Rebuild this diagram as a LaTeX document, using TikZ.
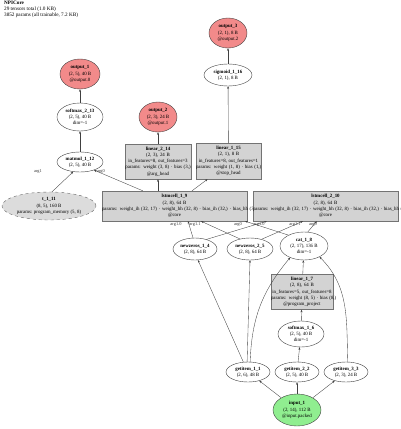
\documentclass[tikz,border=0pt]{standalone}
\usepackage{fontspec}
\setmainfont{Liberation Serif}
\usetikzlibrary{arrows.meta, positioning, calc, shapes.geometric}
\definecolor{outfill}{HTML}{F28A8A}
\definecolor{infill}{HTML}{90EE90}
\definecolor{layerfill}{HTML}{D3D3D3}
\definecolor{constfill}{HTML}{DCDCDC}
\definecolor{inkedge}{HTML}{404040}
\newcommand{\gvtext}{\fontsize{4.9}{6.2}\selectfont}
\newcommand{\titletext}{\fontsize{5.2}{5.9}\selectfont}
\newcommand{\argtext}{\fontsize{4.4}{5}\selectfont}
\newcommand{\gvline}[1]{\mbox{#1}}

\begin{document}
\begin{tikzpicture}[x=1pt, y=-1pt,
    op/.style={ellipse, draw=inkedge, line width=0.4pt, inner sep=0pt,
               align=center, font=\gvtext},
    layer/.style={rectangle, draw=black!55, fill=layerfill, line width=0.4pt,
                  inner sep=0pt, align=center, font=\gvtext},
    edge/.style={-{Stealth[length=2.6pt, width=2pt]}, draw=inkedge, line width=0.35pt},
    argl/.style={font=\argtext, inner sep=0pt, text=black!80}]
  \useasboundingbox (0,0) rectangle (400,429);
  \node[anchor=north west, align=left, font=\titletext, inner sep=0pt] (title) at (4,1)
    {\textbf{NPICore}\\29 tensors total (1.0 KB)\\3852 params (all trainable, 7.2 KB)};

  % outputs and heads
  \node[op, fill=outfill, minimum width=38pt, minimum height=30pt] (output_3) at (228,33)
    {\textbf{output\_3}\\(2, 1), 8 B\\@output.2};
  \node[op, minimum width=48pt, minimum height=22pt] (sigmoid_1_16) at (228,75)
    {\textbf{sigmoid\_1\_16}\\(2, 1), 8 B};
  \node[op, fill=outfill, minimum width=40pt, minimum height=30pt] (output_1) at (80,74)
    {\textbf{output\_1}\\(2, 5), 40 B\\@output.0};
  \node[op, minimum width=46pt, minimum height=28pt] (softmax_2_13) at (80,117)
    {\textbf{softmax\_2\_13}\\(2, 5), 40 B\\dim=-1};
  \node[op, fill=outfill, minimum width=38pt, minimum height=30pt] (output_2) at (158,117)
    {\textbf{output\_2}\\(2, 3), 24 B\\@output.1};
  \node[op, minimum width=46pt, minimum height=20pt] (matmul_1_12) at (80,162)
    {\textbf{matmul\_1\_12}\\(2, 5), 40 B};
  \node[layer, text width=66pt, minimum height=35pt] (linear_2_14) at (158,161.5)
    {\textbf{linear\_2\_14}\\(2, 3), 24 B\\\gvline{in\_features=8, out\_features=3}\\
     \gvline{params: weight (3, 8) · bias (3,)}\\@arg\_head};
  \node[layer, text width=65pt, minimum height=36pt] (linear_1_15) at (228.5,161)
    {\textbf{linear\_1\_15}\\(2, 1), 8 B\\\gvline{in\_features=8, out\_features=1}\\
     \gvline{params: weight (1, 8) · bias (1,)}\\@stop\_head};

  % recurrent core
  \node[op, dashed, draw=black!60, fill=constfill, minimum width=94pt, minimum height=28pt]
    (t_1_11) at (49,206)
    {\textbf{t\_1\_11}\\(8, 5), 160 B\\\gvline{params: program\_memory (5, 8)}};
  \node[layer, text width=145pt, minimum height=30pt] (lstmcell_1_9) at (174.5,206)
    {\textbf{lstmcell\_1\_9}\\(2, 8), 64 B\\
     \gvline{params: weight\_ih (32, 17) · weight\_hh (32, 8) · bias\_ih (32,) · bias\_hh (32,)}\\@core};
  \node[layer, text width=145pt, minimum height=30pt] (lstmcell_2_10) at (325.5,206)
    {\textbf{lstmcell\_2\_10}\\(2, 8), 64 B\\
     \gvline{params: weight\_ih (32, 17) · weight\_hh (32, 8) · bias\_ih (32,) · bias\_hh (32,)}\\@core};
  \node[op, minimum width=44pt, minimum height=22pt] (newzeros_1_4) at (195,249)
    {\textbf{newzeros\_1\_4}\\(2, 8), 64 B};
  \node[op, minimum width=46pt, minimum height=22pt] (newzeros_2_5) at (250,249)
    {\textbf{newzeros\_2\_5}\\(2, 8), 64 B};
  \node[op, minimum width=48pt, minimum height=28pt] (cat_1_8) at (304,246)
    {\textbf{cat\_1\_8}\\(2, 17), 136 B\\dim=-1};
  \node[layer, text width=62pt, minimum height=35pt] (linear_1_7) at (302,292)
    {\textbf{linear\_1\_7}\\(2, 8), 64 B\\\gvline{in\_features=5, out\_features=8}\\
     \gvline{params: weight (8, 5) · bias (8,)}\\@program\_project};
  \node[op, minimum width=46pt, minimum height=26pt] (softmax_1_6) at (301,334)
    {\textbf{softmax\_1\_6}\\(2, 5), 40 B\\dim=-1};

  % inputs
  \node[op, minimum width=44pt, minimum height=20pt] (getitem_1_1) at (248,372)
    {\textbf{getitem\_1\_1}\\(2, 6), 48 B};
  \node[op, minimum width=44pt, minimum height=20pt] (getitem_2_2) at (297,372)
    {\textbf{getitem\_2\_2}\\(2, 5), 40 B};
  \node[op, minimum width=44pt, minimum height=20pt] (getitem_3_3) at (346,372)
    {\textbf{getitem\_3\_3}\\(2, 3), 24 B};
  \node[op, fill=infill, minimum width=48pt, minimum height=32pt] (input_1) at (297,410)
    {\textbf{input\_1}\\(2, 14), 112 B\\@input.packed};

  % edges
  \draw[edge] (sigmoid_1_16) -- (output_3);
  \draw[edge] (linear_1_15) -- (sigmoid_1_16);
  \draw[edge] (softmax_2_13) -- (output_1);
  \draw[edge] (matmul_1_12) -- (softmax_2_13);
  \draw[edge] (linear_2_14) -- (output_2);
  \draw[edge] ($(lstmcell_1_9.north west)+(41,0)$) -- (matmul_1_12.-30);
  \draw[edge] (t_1_11.78) -- (matmul_1_12.-125);
  \draw[edge] (linear_2_14.south |- lstmcell_1_9.north) -- (linear_2_14.south);
  \draw[edge] ($(lstmcell_1_9.north)+(17.5,0)$) -- ($(linear_1_15.south)+(-21,0)$);
  \draw[edge] (newzeros_1_4.100) -- ($(lstmcell_1_9.south)+(13.5,0)$);
  \draw[edge] (newzeros_2_5.135) -- ($(lstmcell_1_9.south)+(26.5,0)$);
  \draw[edge] (cat_1_8.145) -- ($(lstmcell_1_9.south east)+(-2,0)$);
  \draw[edge] (newzeros_1_4.40) -- ($(lstmcell_2_10.south west)+(14,0)$);
  \draw[edge] (newzeros_2_5.40) -- ($(lstmcell_2_10.south west)+(50,0)$);
  \draw[edge] (cat_1_8.75) -- ($(lstmcell_2_10.south west)+(64,0)$);
  \draw[edge] (linear_1_7) -- (cat_1_8);
  \draw[edge] (softmax_1_6) -- (linear_1_7);
  \draw[edge] (getitem_2_2) -- (softmax_1_6);
  \draw[edge] (getitem_1_1.115) -- (newzeros_1_4.-75);
  \draw[edge] (getitem_1_1.95) -- (newzeros_2_5.south);
  \draw[edge] (getitem_1_1.78) to[out=88, in=-130] (cat_1_8.-140);
  \draw[edge] (getitem_3_3.80) to[out=92, in=-45] (cat_1_8.-35);
  \draw[edge] (input_1) -- (getitem_1_1);
  \draw[edge] (input_1) -- (getitem_2_2);
  \draw[edge] (input_1) -- (getitem_3_3);

  % argument labels
  \node[argl] (lab_mm0) at (101,172) {arg0};
  \node[argl] (lab_mm1) at (38,172) {arg1};
  \node[argl] (lab_a10) at (176,225) {arg1.0};
  \node[argl] (lab_a11) at (195,225) {arg1.1};
  \node[argl] (lab_a0) at (238,225) {arg0};
  \node[argl] (lab_b10) at (259,225) {arg1.0};
  \node[argl] (lab_b11) at (295,225) {arg1.1};
  \node[argl] (lab_b0) at (313,225) {arg0};
\end{tikzpicture}
\end{document}
